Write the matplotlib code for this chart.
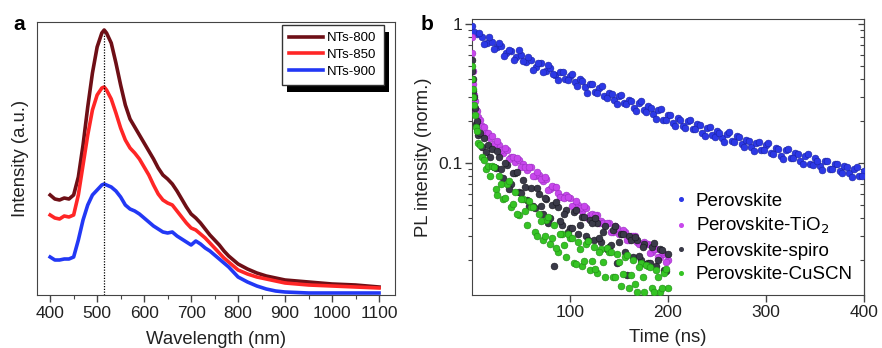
# two-panel PL figure: (a) emission spectra, (b) PL decay
import matplotlib
matplotlib.use('Agg')
import matplotlib.pyplot as plt
from matplotlib.patches import Rectangle
from matplotlib.lines import Line2D
from matplotlib.ticker import LogLocator, NullFormatter, MultipleLocator

plt.rcParams['font.family'] = ['Liberation Sans', 'DejaVu Sans']

# ---- panel a data (wavelength in nm, intensity in arbitrary units) ----
wavelength = [400, 410, 420, 430, 440, 450, 460, 470, 480, 490, 500, 510, 515, 520,
              530, 540, 550, 560, 570, 580, 590, 600, 610, 620, 630, 640, 650, 660,
              670, 680, 690, 700, 710, 720, 730, 740, 750, 760, 770, 780, 790, 800,
              820, 840, 860, 880, 900, 950, 1000, 1050, 1100]
nts_800 = [100, 96, 95, 97, 96, 100, 118, 150, 188, 222, 248, 262, 265, 262,
           252, 232, 210, 190, 176, 168, 160, 152, 144, 136, 127, 120, 116, 111,
           104, 96, 88, 81, 77, 72, 66, 60, 55, 50, 44, 39, 35, 31,
           26, 22, 19, 17, 15, 13, 11, 10, 8]
nts_850 = [80, 77, 76, 79, 78, 80, 100, 130, 160, 185, 200, 207, 208, 205,
           196, 182, 167, 155, 147, 142, 136, 128, 120, 110, 101, 95, 92, 90,
           84, 78, 72, 67, 65, 61, 57, 52, 47, 42, 37, 33, 29, 25,
           21, 18, 16, 14, 12, 10, 9, 8, 7]
nts_900 = [38, 35, 35, 36, 36, 38, 55, 75, 90, 100, 105, 110, 111, 110,
           108, 104, 98, 90, 86, 84, 81, 77, 73, 69, 66, 63, 62, 63,
           59, 56, 53, 50, 54, 51, 47, 44, 40, 36, 32, 28, 23, 18,
           13, 9, 6, 4, 3, 2, 2, 2, 2]
peak_nm = 514

# ---- panel b data (time in ns, normalised PL) ----
t_slow = [0, 5, 10, 15, 20, 25, 30, 35, 40, 45, 50, 55, 60, 65, 70, 75, 80, 85, 90, 95,
          100, 105, 110, 115, 120, 125, 130, 135, 140, 145, 150, 155, 160, 165, 170, 175,
          180, 185, 190, 195, 200, 205, 210, 215, 220, 225, 230, 235, 240, 245, 250, 255,
          260, 265, 270, 275, 280, 285, 290, 295, 300, 305, 310, 315, 320, 325, 330, 335,
          340, 345, 350, 355, 360, 365, 370, 375, 380, 385, 390, 395, 400]
perovskite = [0.96, 0.85, 0.81, 0.73, 0.74, 0.68, 0.69, 0.62, 0.64, 0.58, 0.60, 0.53,
              0.55, 0.49, 0.52, 0.46, 0.48, 0.43, 0.45, 0.40, 0.42, 0.38, 0.40, 0.35,
              0.37, 0.325, 0.345, 0.305, 0.32, 0.285, 0.305, 0.27, 0.285, 0.25, 0.27,
              0.24, 0.255, 0.225, 0.24, 0.205, 0.22, 0.195, 0.21, 0.185, 0.20, 0.175,
              0.19, 0.165, 0.178, 0.158, 0.17, 0.15, 0.162, 0.143, 0.155, 0.136, 0.147,
              0.13, 0.14, 0.124, 0.134, 0.118, 0.128, 0.113, 0.123, 0.108, 0.118, 0.103,
              0.112, 0.099, 0.108, 0.095, 0.103, 0.091, 0.099, 0.087, 0.095, 0.084,
              0.091, 0.081, 0.088]
t_slow2 = [2.5, 7.5, 12.5, 17.5, 22.5, 27.5, 32.5, 37.5, 42.5, 47.5, 52.5, 57.5, 62.5,
           67.5, 72.5, 77.5, 82.5, 87.5, 92.5, 97.5, 102.5, 107.5, 112.5, 117.5, 122.5,
           127.5, 132.5, 137.5, 142.5, 147.5, 152.5, 157.5, 162.5, 167.5, 172.5, 177.5,
           182.5, 187.5, 192.5, 197.5, 202.5, 207.5, 212.5, 217.5, 222.5, 227.5, 232.5,
           237.5, 242.5, 247.5, 252.5, 257.5, 262.5, 267.5, 272.5, 277.5, 282.5, 287.5,
           292.5, 297.5, 302.5, 307.5, 312.5, 317.5, 322.5, 327.5, 332.5, 337.5, 342.5,
           347.5, 352.5, 357.5, 362.5, 367.5, 372.5, 377.5, 382.5, 387.5, 392.5, 397.5]
perovskite2 = [0.88, 0.86, 0.72, 0.80, 0.665, 0.73, 0.59, 0.65, 0.555, 0.645, 0.54, 0.578,
               0.468, 0.522, 0.452, 0.51, 0.44, 0.397, 0.454, 0.395, 0.434, 0.356, 0.387,
               0.318, 0.369, 0.318, 0.357, 0.293, 0.311, 0.266, 0.308, 0.264, 0.28, 0.238,
               0.277, 0.233, 0.247, 0.208, 0.245, 0.203, 0.22, 0.184, 0.205, 0.179, 0.204,
               0.175, 0.186, 0.155, 0.181, 0.154, 0.163, 0.142, 0.168, 0.142, 0.154, 0.13,
               0.144, 0.122, 0.142, 0.123, 0.138, 0.115, 0.125, 0.107, 0.125, 0.108, 0.116,
               0.098, 0.116, 0.097, 0.103, 0.089, 0.104, 0.09, 0.099, 0.084, 0.094, 0.079,
               0.093, 0.081]

t_fast = [0, 0.5, 1, 1.5, 2, 3, 4, 5, 6, 8, 10, 12, 14, 16, 18,
          20, 24, 28, 32, 36, 40, 44, 48, 52, 56, 60, 64, 68, 72, 76, 80, 84, 88, 92, 96,
          100, 104, 108, 112, 116, 120, 124, 128, 132, 136, 140, 144, 148, 152, 156, 160,
          164, 168, 172, 176, 180, 184, 188, 192, 196, 200]
t_fast2 = [22, 26, 30, 34, 38, 42, 46, 50, 54, 58, 62, 66, 70, 74, 78, 82, 86, 90, 94, 98,
           102, 106, 110, 114, 118, 122, 126, 130, 134, 138, 142, 146, 150, 154, 158, 162,
           166, 170, 174, 178, 182, 186, 190, 194, 198]
perovskite_tio2 = [0.80, 0.62, 0.46, 0.37, 0.31, 0.28, 0.24, 0.235, 0.215, 0.205, 0.185,
                   0.182, 0.165, 0.163, 0.152,
                   0.156, 0.137, 0.134, 0.118, 0.124, 0.110, 0.102, 0.105, 0.098, 0.089,
                   0.094, 0.080, 0.082, 0.074, 0.076, 0.065, 0.067, 0.061, 0.057, 0.059,
                   0.056, 0.049, 0.050, 0.045, 0.047, 0.042, 0.039, 0.042, 0.038, 0.036,
                   0.037, 0.032, 0.034, 0.031, 0.032, 0.028, 0.030, 0.027, 0.026, 0.027,
                   0.026, 0.023, 0.024, 0.021, 0.022, 0.020]
perovskite_tio2_b = [0.136, 0.143, 0.124, 0.129, 0.106, 0.111, 0.109, 0.094, 0.093, 0.094,
                     0.081, 0.086, 0.076, 0.079, 0.064, 0.068, 0.067, 0.057, 0.056, 0.057,
                     0.049, 0.053, 0.047, 0.049, 0.040, 0.043, 0.042, 0.037, 0.037, 0.037,
                     0.032, 0.035, 0.031, 0.033, 0.028, 0.030, 0.030, 0.026, 0.026, 0.026,
                     0.0225, 0.024, 0.021, 0.023, 0.0195]
perovskite_spiro = [0.55, 0.46, 0.40, 0.33, 0.30, 0.25, 0.19, 0.20, 0.16, 0.165, 0.13,
                    0.15, 0.12, 0.135, 0.11,
                    0.125, 0.092, 0.110, 0.078, 0.096, 0.070, 0.084, 0.062, 0.075, 0.054,
                    0.066, 0.047, 0.060, 0.043, 0.055, 0.040, 0.018, 0.048, 0.036, 0.046,
                    0.034, 0.044, 0.031, 0.041, 0.030, 0.039, 0.028, 0.037, 0.027, 0.035,
                    0.025, 0.033, 0.019, 0.031, 0.023, 0.030, 0.021, 0.028, 0.020, 0.026,
                    0.019, 0.025, 0.018, 0.024, 0.017, 0.022]
perovskite_spiro_b = [0.094, 0.122, 0.090, 0.100, 0.065, 0.084, 0.086, 0.061, 0.067, 0.049,
                      0.049, 0.066, 0.049, 0.056, 0.037, 0.050, 0.052, 0.038, 0.043, 0.032,
                      0.034, 0.046, 0.036, 0.041, 0.028, 0.037, 0.040, 0.029, 0.032, 0.024,
                      0.0255, 0.035, 0.027, 0.031, 0.0155, 0.028, 0.0295, 0.0215, 0.0247,
                      0.0186, 0.019, 0.0265, 0.020, 0.0235, 0.0168]
perovskite_cuscn = [0.50, 0.40, 0.34, 0.30, 0.26, 0.22, 0.18, 0.17, 0.14, 0.135, 0.11,
                    0.105, 0.09, 0.095, 0.08,
                    0.095, 0.065, 0.080, 0.055, 0.070, 0.048, 0.062, 0.042, 0.055, 0.036,
                    0.048, 0.032, 0.043, 0.028, 0.039, 0.026, 0.036, 0.023, 0.031, 0.021,
                    0.029, 0.019, 0.027, 0.018, 0.026, 0.017, 0.025, 0.016, 0.024, 0.015,
                    0.023, 0.015, 0.022, 0.013, 0.021, 0.0125, 0.020, 0.0118, 0.019, 0.0118,
                    0.018, 0.0125, 0.017, 0.0118, 0.016, 0.0125]
perovskite_cuscn_b = [0.094, 0.059, 0.071, 0.056, 0.074, 0.051, 0.043, 0.055, 0.045, 0.053,
                      0.048, 0.030, 0.038, 0.030, 0.041, 0.029, 0.0246, 0.031, 0.0257, 0.031,
                      0.029, 0.0188, 0.024, 0.0198, 0.0275, 0.0198, 0.0172, 0.023, 0.0194,
                      0.0244, 0.023, 0.0152, 0.0194, 0.0158, 0.0219, 0.0156, 0.0135, 0.0179,
                      0.015, 0.0183, 0.0177, 0.0118, 0.0151, 0.0125, 0.0171]

W, H = 882, 348
fig = plt.figure(figsize=(W / 100, H / 100), dpi=100)


def px_axes(x0, y0, x1, y1):
    # axes from pixel box (top-left origin)
    return fig.add_axes([x0 / W, 1 - y1 / H, (x1 - x0) / W, (y1 - y0) / H])


spine_col = '#444444'

# ---------------- panel a ----------------
ax1 = px_axes(37, 22, 395, 295)
ax1.plot(wavelength, nts_800, color='#6e0f16', lw=2.6, label='NTs-800')
ax1.plot(wavelength, nts_850, color='#ff2626', lw=2.6, label='NTs-850')
ax1.plot(wavelength, nts_900, color='#2238f5', lw=2.6, label='NTs-900')
ax1.plot([peak_nm, peak_nm], [0, 262], color='black', lw=0.9, ls=(0, (1, 1.2)))
ax1.set_xlim(372, 1134)
ax1.set_ylim(0, 273)
ax1.set_yticks([])
ax1.xaxis.set_major_locator(MultipleLocator(100))
ax1.xaxis.set_minor_locator(MultipleLocator(50))
ax1.tick_params(axis='x', which='major', direction='out', length=5, width=1,
                labelsize=12.5, pad=3, colors=spine_col, labelcolor='#222222')
ax1.tick_params(axis='x', which='minor', direction='out', length=3, width=0.8, colors=spine_col)
ax1.set_xlabel('Wavelength (nm)', fontsize=13.3, labelpad=7, color='#222222')
ax1.set_ylabel('Intensity (a.u.)', fontsize=13.3, labelpad=6, color='#222222')
for s in ax1.spines.values():
    s.set_color(spine_col)
leg1 = ax1.legend(loc='upper left', bbox_to_anchor=(0.683, 0.99), fontsize=9.5,
                  fancybox=False, edgecolor='#333333', framealpha=1,
                  handlelength=2.6, handletextpad=0.3, labelspacing=0.35,
                  borderpad=0.55, borderaxespad=0)
leg1.get_frame().set_linewidth(1.0)

# ---------------- panel b ----------------
ax2 = px_axes(472, 19, 864, 295)
ms = 24
series_b = [
    (t_slow + t_slow2, perovskite + perovskite2, '#2c38e6', '#1a22a0', 'Perovskite', 3),
    (t_fast + t_fast2, perovskite_tio2 + perovskite_tio2_b, '#c847ec', '#9a2ec0', 'Perovskite-TiO$_2$', 3),
    (t_fast + t_fast2, perovskite_spiro + perovskite_spiro_b, '#3a3a48', '#15151c', 'Perovskite-spiro', 4),
    (t_fast + t_fast2, perovskite_cuscn + perovskite_cuscn_b, '#35c424', '#1f8a14', 'Perovskite-CuSCN', 5),
]
handles = []
for tx, vy, fc, ec, lab, z in series_b:
    ax2.scatter(tx, vy, s=ms, color=fc, edgecolors=ec, linewidths=0.4, zorder=z)
    handles.append(Line2D([], [], ls='None', marker='o', markersize=2.6,
                          markerfacecolor=fc, markeredgecolor=fc, label=lab))
ax2.set_yscale('log')
ax2.set_xlim(0, 400)
ax2.set_ylim(0.0112, 1.086)
ax2.set_xticks([100, 200, 300, 400])
ax2.set_yticks([0.1, 1])
ax2.set_yticklabels(['0.1', '1'])
ax2.yaxis.set_minor_locator(LogLocator(base=10, subs=range(2, 10)))
ax2.yaxis.set_minor_formatter(NullFormatter())
ax2.tick_params(axis='both', which='major', direction='out', length=5, width=1,
                labelsize=12.5, pad=2, colors=spine_col, labelcolor='#222222')
ax2.tick_params(axis='y', which='minor', direction='out', length=3, width=0.8, colors=spine_col)
# inward ticks on the right spine
axr = ax2.secondary_yaxis('right')
axr.set_yticks([0.1, 1])
axr.yaxis.set_minor_locator(LogLocator(base=10, subs=range(2, 10)))
axr.yaxis.set_minor_formatter(NullFormatter())
axr.tick_params(which='major', direction='in', length=4, width=0.9, labelright=False, colors=spine_col)
axr.tick_params(which='minor', direction='in', length=3, width=0.8, colors=spine_col)
axr.set_yticklabels([])
ax2.set_xlabel('Time (ns)', fontsize=13.3, labelpad=7, color='#222222')
ax2.set_ylabel('PL intensity (norm.)', fontsize=13.3, labelpad=4, color='#222222')
for s in ax2.spines.values():
    s.set_color(spine_col)
leg2 = ax2.legend(handles=handles, loc='upper left', bbox_to_anchor=(0.52, 0.37),
                  fontsize=13.5, frameon=False, handlelength=0.6, handletextpad=0.45,
                  labelspacing=0.33, borderpad=0, borderaxespad=0)

# panel letters
fig.text(13 / W, 1 - 30 / H, 'a', fontsize=15, fontweight='bold')
fig.text(421 / W, 1 - 30 / H, 'b', fontsize=15, fontweight='bold')

# black drop shadow behind the legend of panel a
fig.canvas.draw()
bb = leg1.get_window_extent()
shadow = Rectangle((bb.x0 + 5, bb.y0 - 7), bb.width, bb.height, transform=None,
                   facecolor='black', edgecolor='none', zorder=leg1.get_zorder() - 0.1)
ax1.add_artist(shadow)
shadow.set_clip_on(False)

fig.savefig('out.png', dpi=100)
